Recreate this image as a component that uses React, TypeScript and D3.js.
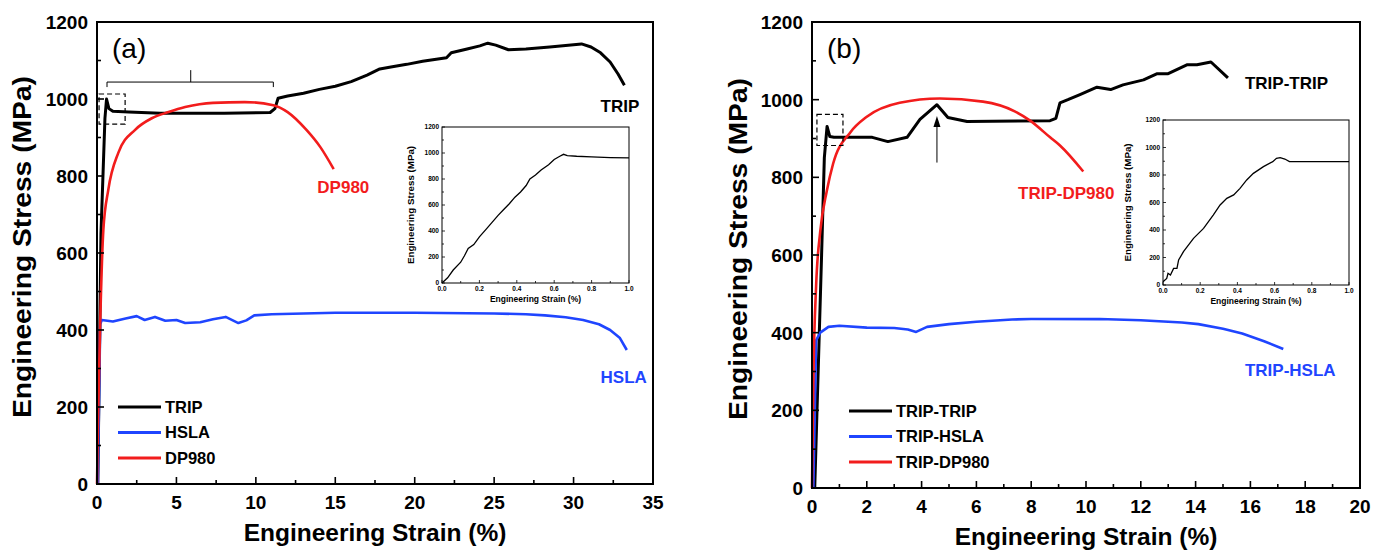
import React from "react";
import * as d3 from "d3";

type Pt = [number, number];

// panel (a): single sheets
const tripA: Pt[] = [
  [0.05, 0], [0.25, 650], [0.5, 950], [0.6, 1000], [0.75, 975], [1.0, 968], [2, 966], [4, 963],
  [8, 963], [10.9, 965], [11.2, 975], [11.4, 1002], [12, 1008], [13, 1015], [14, 1025], [15, 1033],
  [16, 1045], [17, 1062], [17.8, 1078], [18.5, 1083], [19.5, 1090], [20.5, 1098], [22, 1107],
  [22.3, 1120], [23.3, 1130], [24.1, 1138], [24.6, 1145], [25.1, 1140], [25.9, 1128], [27, 1130],
  [28.5, 1135], [30.5, 1143], [31.1, 1135], [31.7, 1120], [32.3, 1096], [32.8, 1065], [33.2, 1036],
];
const hslaA: Pt[] = [
  [0.05, 0], [0.2, 415], [0.3, 426], [1, 422], [1.8, 430], [2.5, 436], [3, 426], [3.65, 434],
  [4.3, 424], [5, 426], [5.55, 418], [6.5, 420], [7.3, 428], [8.1, 434], [8.9, 418], [9.4, 425],
  [9.9, 438], [11, 441], [13, 443], [15, 445], [20, 445], [25, 443], [27, 441], [28.2, 438],
  [29.5, 433], [30.6, 426], [31.6, 415], [32.3, 400], [32.9, 380], [33.35, 348],
];
const dp980A: Pt[] = [
  [0, 0], [0.06, 150], [0.19, 400], [0.4, 660], [0.71, 764], [1.34, 860], [2.4, 920], [3.45, 950],
  [4.5, 966], [5.55, 979], [7.3, 990], [9.3, 992], [11.1, 984], [12, 966], [13.2, 919],
  [14.06, 875], [14.9, 818],
];
// panel (b): joints
const tripTripB: Pt[] = [
  [0.1, 0], [0.35, 600], [0.45, 850], [0.55, 931], [0.65, 905], [0.8, 903], [2.2, 903], [2.77, 892],
  [3.47, 903], [3.94, 949], [4.56, 987], [4.96, 954], [5.66, 944], [8.69, 946], [8.9, 952],
  [9.05, 992], [9.34, 1000], [9.78, 1013], [10.4, 1032], [10.9, 1026], [11.35, 1038], [12.1, 1051],
  [12.6, 1067], [13.0, 1067], [13.7, 1090], [14.05, 1090], [14.56, 1097], [15.18, 1056],
];
const tripHslaB: Pt[] = [
  [0.05, 0], [0.15, 380], [0.3, 400], [0.6, 415], [1, 418], [2, 413], [3, 412], [3.5, 408],
  [3.8, 402], [4.2, 415], [5, 422], [6, 428], [7.3, 434], [8, 435], [10.5, 435], [12, 432],
  [13.5, 426], [14.1, 422], [15, 410], [15.7, 398], [16.5, 378], [17.2, 358],
];
const tripDp980B: Pt[] = [
  [0, 0], [0.05, 280], [0.15, 520], [0.3, 660], [0.54, 765], [0.77, 835], [1.39, 915], [2.0, 956],
  [3.2, 992], [4.67, 1003], [6.24, 995], [7.4, 970], [7.96, 946], [8.69, 903], [9.05, 882],
  [9.9, 815],
];
// insets: elastic part
const insetA: Pt[] = [
  [0, 0], [0.03, 40], [0.06, 100], [0.1, 160], [0.12, 210], [0.14, 265], [0.17, 295], [0.2, 355],
  [0.24, 420], [0.27, 470], [0.3, 520], [0.33, 565], [0.36, 610], [0.39, 660], [0.42, 700],
  [0.45, 750], [0.47, 800], [0.5, 830], [0.53, 870], [0.57, 910], [0.6, 950], [0.63, 975],
  [0.65, 990], [0.67, 980], [0.72, 975], [0.8, 970], [0.9, 965], [1.0, 962],
];
const insetB: Pt[] = [
  [0, 24], [0.02, 48], [0.027, 85], [0.04, 73], [0.057, 121], [0.075, 121], [0.084, 182],
  [0.11, 242], [0.164, 339], [0.218, 412], [0.27, 509], [0.307, 582], [0.343, 630], [0.38, 655],
  [0.414, 703], [0.45, 764], [0.486, 812], [0.54, 861], [0.59, 897], [0.61, 921], [0.63, 926],
  [0.655, 916], [0.68, 897], [1.0, 897],
];

const legendA = ["TRIP", "HSLA", "DP980"];
const legendB = ["TRIP-TRIP", "TRIP-HSLA", "TRIP-DP980"];

const BLACK = "#000";
const BLUE = "#1f45ff";
const RED = "#f21c1c";
const FONT = "Arial, 'Liberation Sans', Helvetica, sans-serif";

const range = (a: number, b: number, s: number) => d3.range(a, b + s / 2, s);

function Axes(p: any) {
  const { x, y, xTicks, xMinor, yTicks, yMinor, fs, major, minor, sw, xFmt, xDy, yDx } = p;
  const [x0, x1] = x.range();
  const [y0, y1] = y.range();
  return (
    <g fontFamily={FONT} fontWeight="bold">
      <rect x={x0} y={y1} width={x1 - x0} height={y0 - y1} fill="none" stroke="#000" strokeWidth={sw} />
      {yMinor.map((v: number) => (
        <line key={"ym" + v} x1={x0} x2={x0 + minor} y1={y(v)} y2={y(v)} stroke="#000" strokeWidth={sw * 0.8} />
      ))}
      {yTicks.map((v: number) => (
        <g key={"y" + v}>
          <line x1={x0} x2={x0 + major} y1={y(v)} y2={y(v)} stroke="#000" strokeWidth={sw * 0.8} />
          <text x={x0 - yDx} y={y(v)} dy="0.36em" textAnchor="end" fontSize={fs}>{v}</text>
        </g>
      ))}
      {xMinor.map((v: number) => (
        <line key={"xm" + v} x1={x(v)} x2={x(v)} y1={y0} y2={y0 - minor} stroke="#000" strokeWidth={sw * 0.8} />
      ))}
      {xTicks.map((v: number) => (
        <g key={"x" + v}>
          <line x1={x(v)} x2={x(v)} y1={y0} y2={y0 - major} stroke="#000" strokeWidth={sw * 0.8} />
          <text x={x(v)} y={y0 + xDy} textAnchor="middle" fontSize={fs}>{xFmt(v)}</text>
        </g>
      ))}
    </g>
  );
}

function Inset({ x, y, data, yTitleX }: any) {
  const line = d3.line<Pt>().x((d) => x(d[0])).y((d) => y(d[1]));
  const [x0, x1] = x.range();
  const [y0, y1] = y.range();
  return (
    <g>
      <path d={line(data) || ""} fill="none" stroke="#000" strokeWidth={1.3} />
      <Axes x={x} y={y} xTicks={range(0, 1, 0.2)} xMinor={range(0.1, 0.9, 0.2)}
        yTicks={range(0, 1200, 200)} yMinor={range(100, 1100, 200)} fs={6.5} major={3} minor={2}
        sw={1} xFmt={(v: number) => v.toFixed(1)} xDy={8} yDx={3} />
      <text x={(x0 + x1) / 2} y={y0 + 19} textAnchor="middle" fontFamily={FONT} fontWeight="bold" fontSize={8.5}>
        Engineering Strain (%)
      </text>
      <text transform={`translate(${yTitleX},${(y0 + y1) / 2}) rotate(-90) scale(1.15,1)`} textAnchor="middle"
        fontFamily={FONT} fontWeight="bold" fontSize={8.5}>
        Engineering Stress (MPa)
      </text>
    </g>
  );
}

function Panel(p: any) {
  const { x, y, xTicks, xMinor, series, labels, legend, legendX, tag, yTitleX, children } = p;
  const [x0, x1] = x.range();
  const [y0, y1] = y.range();
  return (
    <g>
      {series.map((s: any, i: number) => {
        const line = d3.line<Pt>().x((d) => x(d[0])).y((d) => y(d[1]))
          .curve(s.smooth ? d3.curveMonotoneX : d3.curveLinear);
        return <path key={i} d={line(s.data) || ""} fill="none" stroke={s.color} strokeWidth={s.width}
          strokeLinejoin="round" />;
      })}
      <Axes x={x} y={y} xTicks={xTicks} xMinor={xMinor} yTicks={range(0, 1200, 200)}
        yMinor={range(100, 1100, 200)} fs={19} major={7} minor={4} sw={2}
        xFmt={(v: number) => String(v)} xDy={25} yDx={9} />
      {children}
      <text x={x0 + 15} y={y1 + 36} fontFamily={FONT} fontSize={28}>{tag}</text>
      <text x={(x0 + x1) / 2} y={y0 + 57} textAnchor="middle" fontFamily={FONT} fontWeight="bold" fontSize={24.5}>
        Engineering Strain (%)
      </text>
      <text transform={`translate(${yTitleX},${(y0 + y1) / 2 - 6}) rotate(-90) scale(1.13,1)`} textAnchor="middle"
        fontFamily={FONT} fontWeight="bold" fontSize={25}>
        Engineering Stress (MPa)
      </text>
      {labels.map((l: any) => (
        <text key={l.text} x={x(l.at[0])} y={y(l.at[1])} fill={l.color} fontFamily={FONT}
          fontWeight="bold" fontSize={17}>{l.text}</text>
      ))}
      {legend.map((name: string, i: number) => (
        <g key={name}>
          <line x1={legendX} x2={legendX + 43} y1={y0 - 77 + i * 25.5} y2={y0 - 77 + i * 25.5}
            stroke={series[i].color} strokeWidth={3} />
          <text x={legendX + 47} y={y0 - 77 + i * 25.5} dy="0.36em" fontFamily={FONT}
            fontWeight="bold" fontSize={16.5}>{name}</text>
        </g>
      ))}
    </g>
  );
}

export default function App() {
  const xa = d3.scaleLinear().domain([0, 35]).range([97, 653]);
  const ya = d3.scaleLinear().domain([0, 1200]).range([484, 22]);
  const xb = d3.scaleLinear().domain([0, 20]).range([812, 1360]);
  const yb = d3.scaleLinear().domain([0, 1200]).range([488, 22]);
  const xia = d3.scaleLinear().domain([0, 1]).range([442, 629]);
  const yia = d3.scaleLinear().domain([0, 1200]).range([283, 127]);
  const xib = d3.scaleLinear().domain([0, 1]).range([1163, 1349]);
  const yib = d3.scaleLinear().domain([0, 1200]).range([285, 120]);

  const seriesA = [
    { data: tripA, color: BLACK, width: 3 },
    { data: hslaA, color: BLUE, width: 2.6 },
    { data: dp980A, color: RED, width: 2.6, smooth: true },
  ];
  const seriesB = [
    { data: tripTripB, color: BLACK, width: 3 },
    { data: tripHslaB, color: BLUE, width: 2.6 },
    { data: tripDp980B, color: RED, width: 2.6, smooth: true },
  ];

  return (
    <svg width={1384} height={550} style={{ position: "absolute", left: 0, top: 0, background: "#fff" }}>
      <Panel x={xa} y={ya} xTicks={range(0, 35, 5)} xMinor={range(2.5, 32.5, 5)} series={seriesA}
        legend={legendA} legendX={118} tag="(a)" yTitleX={31}
        labels={[
          { text: "TRIP", at: [31.7, 966], color: BLACK },
          { text: "DP980", at: [13.87, 756], color: RED },
          { text: "HSLA", at: [31.7, 262], color: BLUE },
        ]}>
        <rect x={xa(0.13)} y={ya(1013)} width={xa(1.77) - xa(0.13)} height={ya(935) - ya(1013)}
          fill="none" stroke="#000" strokeWidth={1.2} strokeDasharray="5,3" />
        <path d={`M${xa(0.63)},${ya(1031)}V${ya(1044)}H${xa(11.1)}V${ya(1031)}M${xa(5.9)},${ya(1044)}V${ya(1075)}`}
          fill="none" stroke="#000" strokeWidth={1} />
        <Inset x={xia} y={yia} data={insetA} yTitleX={414} />
      </Panel>
      <Panel x={xb} y={yb} xTicks={range(0, 20, 2)} xMinor={range(1, 19, 2)} series={seriesB}
        legend={legendB} legendX={849} tag="(b)" yTitleX={747}
        labels={[
          { text: "TRIP-TRIP", at: [15.8, 1028], color: BLACK },
          { text: "TRIP-DP980", at: [7.52, 745], color: RED },
          { text: "TRIP-HSLA", at: [15.8, 288], color: BLUE },
        ]}>
        <rect x={xb(0.18)} y={yb(962)} width={xb(1.13) - xb(0.18)} height={yb(882) - yb(962)}
          fill="none" stroke="#000" strokeWidth={1.2} strokeDasharray="5,3" />
        <line x1={xb(4.56)} x2={xb(4.56)} y1={yb(838)} y2={yb(945)} stroke="#000" strokeWidth={1} />
        <path d={`M${xb(4.56)},${yb(958)}l-3.5,11h7z`} fill="#000" />
        <Inset x={xib} y={yib} data={insetB} yTitleX={1131} />
      </Panel>
    </svg>
  );
}
